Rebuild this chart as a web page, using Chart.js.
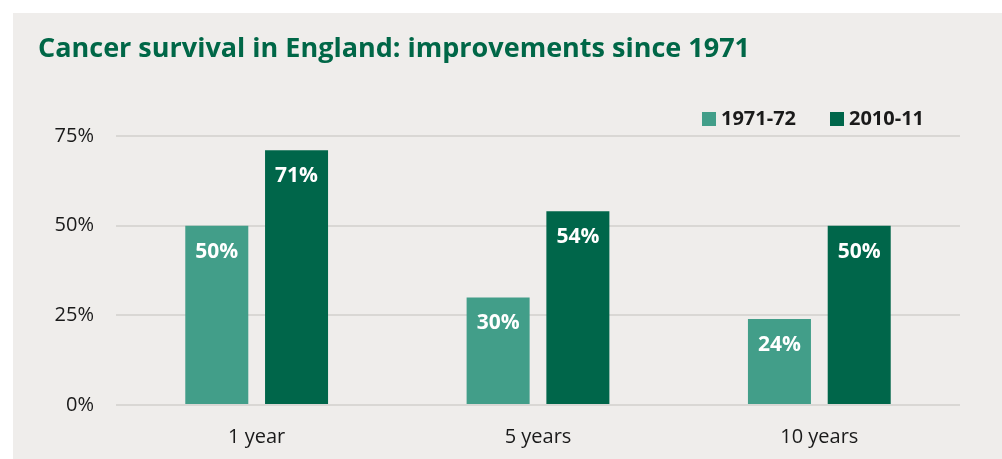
<!DOCTYPE html>
<html>
<head>
<meta charset="utf-8">
<script src="https://cdn.jsdelivr.net/npm/chart.js@4.4.1/dist/chart.umd.min.js"></script>
<style>
  html, body { margin: 0; padding: 0; background: #ffffff; }
  #wrap { width: 1002px; height: 459px; position: relative; }
</style>
</head>
<body>
<div id="wrap"><canvas id="c" width="1002" height="459"></canvas></div>
<script>
// Survival periods and the two diagnosis cohorts
const categories = ['1 year', '5 years', '10 years'];
const seriesNames = ['1971-72', '2010-11'];
const survival1971 = [50, 30, 24];
const survival2010 = [71, 54, 50];
const yTicks = [0, 25, 50, 75];

const titleText = 'Cancer survival in England: improvements since 1971';
const colLight = '#429e89';
const colDark = '#00664a';
const panelBg = '#efedeb';
const textFont = "'Open Sans', 'Noto Sans', sans-serif";

// Grey panel behind the chart plus the title
const panelPlugin = {
  id: 'panel',
  beforeDraw(chart) {
    const ctx = chart.ctx;
    ctx.save();
    ctx.fillStyle = '#ffffff';
    ctx.fillRect(0, 0, chart.width, chart.height);
    ctx.fillStyle = panelBg;
    ctx.fillRect(13, 13, chart.width - 13, chart.height - 13);
    ctx.fillStyle = '#006747';
    ctx.font = "bold 27px " + textFont;
    ctx.textBaseline = 'alphabetic';
    ctx.textAlign = 'left';
    ctx.fillText(titleText, 38, 57);
    ctx.restore();
  }
};

// Legend drawn in the top-right corner
const legendPlugin = {
  id: 'cornerLegend',
  afterDraw(chart) {
    const ctx = chart.ctx;
    ctx.save();
    ctx.font = "bold 20px " + textFont;
    ctx.textBaseline = 'middle';
    ctx.textAlign = 'left';
    const starts = [702, 830];
    chart.data.datasets.forEach((ds, i) => {
      const x = starts[i];
      ctx.fillStyle = ds.backgroundColor;
      ctx.fillRect(x, 112, 14, 14);
      ctx.fillStyle = '#1a1a1a';
      ctx.fillText(ds.label, x + 19, 119);
    });
    ctx.restore();
  }
};

// White value labels inside the top of each bar
const valueLabelPlugin = {
  id: 'valueLabels',
  afterDatasetsDraw(chart) {
    const ctx = chart.ctx;
    ctx.save();
    ctx.font = "bold 21px " + textFont;
    ctx.fillStyle = '#ffffff';
    ctx.textAlign = 'center';
    ctx.textBaseline = 'middle';
    chart.data.datasets.forEach((ds, di) => {
      const meta = chart.getDatasetMeta(di);
      meta.data.forEach((bar, i) => {
        ctx.fillText(ds.data[i] + '%', bar.x, bar.y + 26);
      });
    });
    ctx.restore();
  }
};

function build() {
  new Chart(document.getElementById('c'), {
    type: 'bar',
    data: {
      labels: categories,
      datasets: [
        { label: seriesNames[0], data: survival1971, backgroundColor: colLight,
          categoryPercentage: 0.567, barPercentage: 0.79 },
        { label: seriesNames[1], data: survival2010, backgroundColor: colDark,
          categoryPercentage: 0.567, barPercentage: 0.79 }
      ]
    },
    options: {
      responsive: false,
      animation: false,
      devicePixelRatio: 1,
      layout: { padding: { top: 136, right: 42, bottom: 0, left: 10 } },
      plugins: {
        legend: { display: false },
        title: { display: false },
        tooltip: { enabled: false }
      },
      scales: {
        x: {
          afterFit(scale) { scale.height = 54; },
          grid: { display: false, drawTicks: false },
          border: { display: false },
          ticks: { color: '#1a1a1a', padding: 20, font: { family: textFont, size: 20 } }
        },
        y: {
          min: 0,
          max: 75,
          afterFit(scale) { scale.width = 106; },
          afterBuildTicks(scale) { scale.ticks = yTicks.map(v => ({ value: v })); },
          grid: { color: '#d9d7d4', lineWidth: 2, drawTicks: false },
          border: { display: false },
          ticks: {
            color: '#1a1a1a',
            padding: 22,
            font: { family: textFont, size: 20 },
            callback: v => v + '%'
          }
        }
      }
    },
    plugins: [panelPlugin, legendPlugin, valueLabelPlugin]
  });
}

Promise.all([
  document.fonts.load("20px 'Open Sans'"),
  document.fonts.load("bold 20px 'Open Sans'")
]).then(build, build);
</script>
</body>
</html>
